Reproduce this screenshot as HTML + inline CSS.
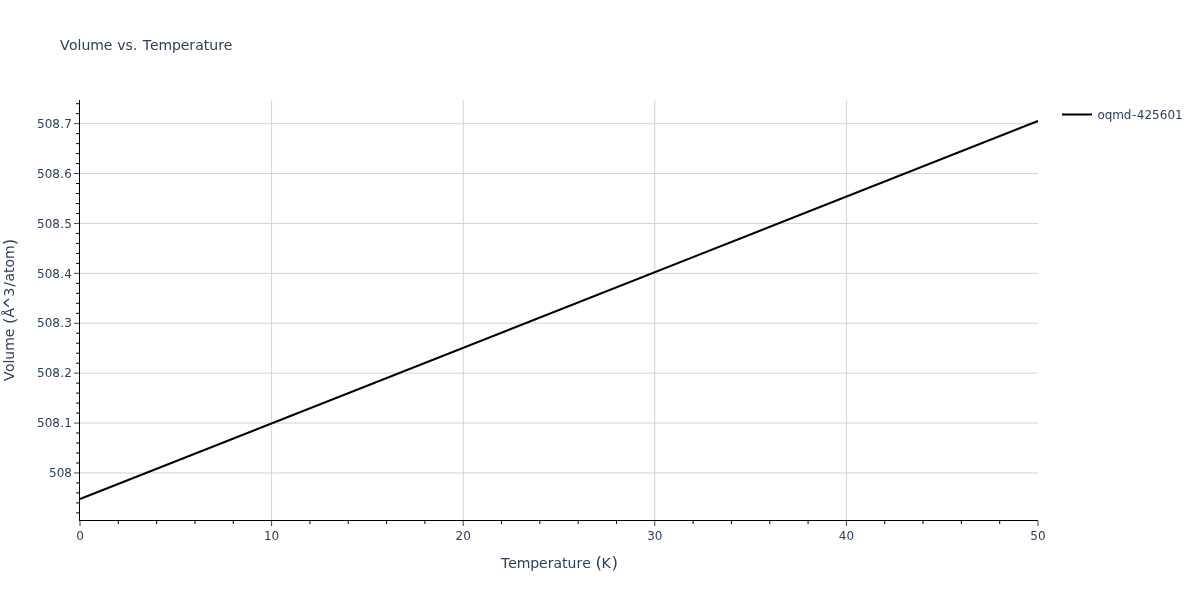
<!DOCTYPE html><html><head><meta charset="utf-8"><title>Volume vs. Temperature</title>
<style>html,body{margin:0;padding:0;background:#fff;width:1200px;height:600px;overflow:hidden}svg{display:block;will-change:transform}text{font-family:"DejaVu Sans", "Liberation Sans", sans-serif;fill:#2a3f5f;white-space:pre}</style></head><body>
<svg width="1200" height="600" viewBox="0 0 1200 600">
<rect x="0" y="0" width="1200" height="600" fill="#fff"/>
<path d="M271.60,100V520M463.20,100V520M654.80,100V520M846.40,100V520M80,472.95H1038M80,423.05H1038M80,373.15H1038M80,323.25H1038M80,273.35H1038M80,223.45H1038M80,173.55H1038M80,123.65H1038" stroke="#d3d3d3" stroke-width="1" fill="none"/>
<path d="M80,499.0L1038,121.0" stroke="#000" stroke-width="2" fill="none"/>
<path d="M79.5,100V521M79,520.5H1038" stroke="#000" stroke-width="1" fill="none"/>
<path d="M118.32,521v3M156.64,521v3M194.96,521v3M233.28,521v3M309.92,521v3M348.24,521v3M386.56,521v3M424.88,521v3M501.52,521v3M539.84,521v3M578.16,521v3M616.48,521v3M693.12,521v3M731.44,521v3M769.76,521v3M808.08,521v3M884.72,521v3M923.04,521v3M961.36,521v3M999.68,521v3M79,512.87h-3M79,502.89h-3M79,492.91h-3M79,482.93h-3M79,462.97h-3M79,452.99h-3M79,443.01h-3M79,433.03h-3M79,413.07h-3M79,403.09h-3M79,393.11h-3M79,383.13h-3M79,363.17h-3M79,353.19h-3M79,343.21h-3M79,333.23h-3M79,313.27h-3M79,303.29h-3M79,293.31h-3M79,283.33h-3M79,263.37h-3M79,253.39h-3M79,243.41h-3M79,233.43h-3M79,213.47h-3M79,203.49h-3M79,193.51h-3M79,183.53h-3M79,163.57h-3M79,153.59h-3M79,143.61h-3M79,133.63h-3M79,113.67h-3M79,103.69h-3" stroke="#000" stroke-width="1" fill="none"/>
<path d="M80.00,521v5M271.60,521v5M463.20,521v5M654.80,521v5M846.40,521v5M1038.00,521v5M79,472.95h-5M79,423.05h-5M79,373.15h-5M79,323.25h-5M79,273.35h-5M79,223.45h-5M79,173.55h-5M79,123.65h-5" stroke="#444" stroke-width="1" fill="none"/>
<text x="76.18" y="540" font-size="12">0</text>
<text x="263.97 271.60" y="540 540" font-size="12">10</text>
<text x="455.57 463.20" y="540 540" font-size="12">20</text>
<text x="647.17 654.80" y="540 540" font-size="12">30</text>
<text x="838.77 846.40" y="540 540" font-size="12">40</text>
<text x="1030.37 1038.00" y="540 540" font-size="12">50</text>
<text x="49.10 56.73 64.37" y="477.15 477.15 477.15" font-size="12">508</text>
<text x="37.10 44.73 52.37 60.28 64.37" y="427.25 427.25 427.25 427.25 427.25" font-size="12">508.1</text>
<text x="37.10 44.73 52.37 60.28 64.37" y="377.35 377.35 377.35 377.35 377.35" font-size="12">508.2</text>
<text x="37.10 44.73 52.37 60.28 64.37" y="327.45 327.45 327.45 327.45 327.45" font-size="12">508.3</text>
<text x="37.10 44.73 52.37 60.28 64.37" y="277.55 277.55 277.55 277.55 277.55" font-size="12">508.4</text>
<text x="37.10 44.73 52.37 60.28 64.37" y="227.65 227.65 227.65 227.65 227.65" font-size="12">508.5</text>
<text x="37.10 44.73 52.37 60.28 64.37" y="177.75 177.75 177.75 177.75 177.75" font-size="12">508.6</text>
<text x="37.10 44.73 52.37 60.28 64.37" y="127.85 127.85 127.85 127.85 127.85" font-size="12">508.7</text>
<text x="60.00 69.05 77.56 81.41 90.27 103.77 112.49 117.18 125.46 133.08 138.09 142.82 150.08 158.55 172.10 180.77 189.36 195.14 203.65 209.15 218.13 223.86" y="50 50 50 50 50 50 50 50 50 50 50 50 50 50 50 50 50 50 50 50 50 50" font-size="14">Volume vs. Temperature</text>
<text x="501.09 508.35 516.82 530.37 539.04 547.63 553.41 561.92 567.42 576.40 582.13 590.85" y="568 568 568 568 568 568 568 568 568 568 568 568" font-size="14">Temperature </text><text transform="translate(598.71,568.00) scale(1.2,1.082) rotate(0.02) translate(-2.73,0.00)" x="0" y="0" font-size="14">(</text><text x="601.45" y="568" font-size="14">K</text><text transform="translate(614.77,568.00) scale(1.2,1.082) rotate(0.02) translate(-2.73,0.00)" x="0" y="0" font-size="14">)</text>
<g transform="translate(14,310) rotate(-90)"><text x="-71.11 -62.06 -53.56 -49.70 -40.84 -27.34 -18.63" y="0 0 0 0 0 0 0" font-size="14">Volume </text><text transform="translate(-10.76,0.56) scale(1.2,1.082) rotate(0.02) translate(-2.73,0.00)" x="0" y="0" font-size="14">(</text><text x="-7.58" y="0" font-size="14">Å</text><text transform="translate(7.23,-9.52) scale(1.05,1.4) rotate(0.02) translate(-5.87,9.52)" x="0" y="0" font-size="14">^</text><text x="13.45 23.17 28.62 37.13 42.60 51.13" y="0 0 0 0 0 0" font-size="14">3/atom</text><text transform="translate(67.94,0.56) scale(1.2,1.082) rotate(0.02) translate(-2.73,0.00)" x="0" y="0" font-size="14">)</text></g>
<path d="M1062,114.5h30" stroke="#000" stroke-width="2" fill="none"/>
<text x="1097.47 1104.71 1112.25 1123.87 1131.97 1136.86 1144.49 1152.12 1159.75 1167.39 1175.02" y="119 119 119 119 119 119 119 119 119 119 119" font-size="12">oqmd-425601</text>
</svg></body></html>
